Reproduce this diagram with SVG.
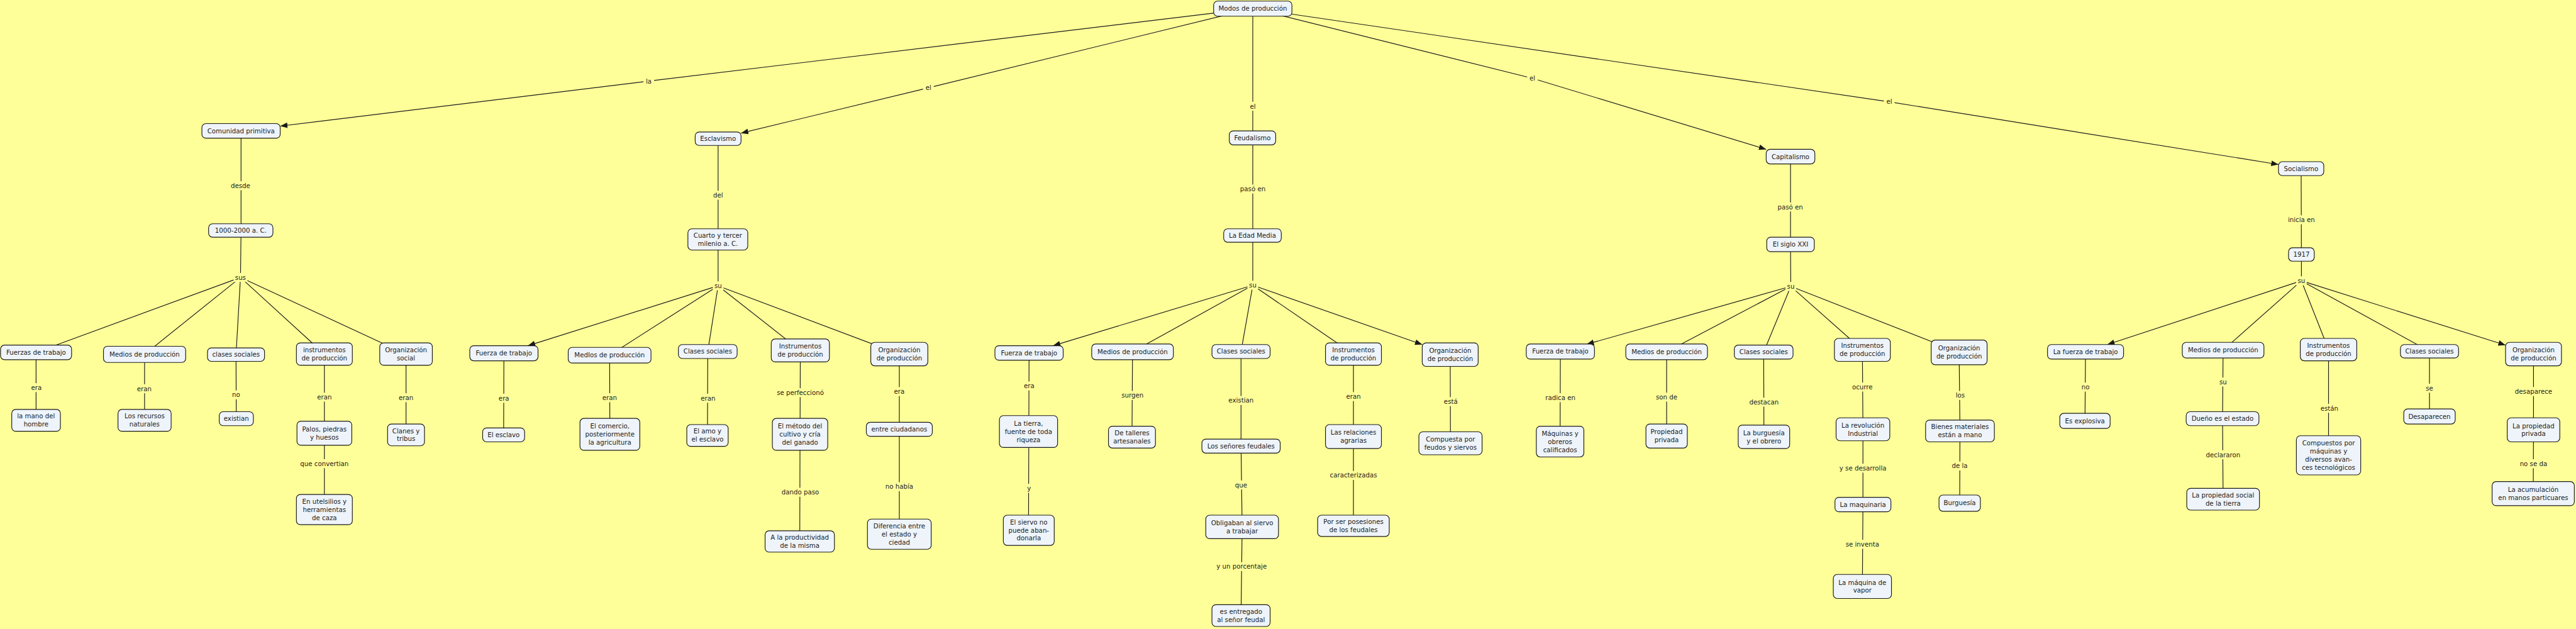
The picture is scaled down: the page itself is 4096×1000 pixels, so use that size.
<svg xmlns="http://www.w3.org/2000/svg" width="4096" height="1000" viewBox="0 0 4096 1000">
<defs>
<style>
.n rect{fill:#eef4f9;stroke:#1a1a1a;stroke-width:1.3}
text{font-family:"DejaVu Sans",Verdana,sans-serif;font-size:11.5px;fill:#1a1a1a;text-anchor:middle}
.c path{fill:none;stroke:#1a1a1a;stroke-width:1.3}
.a{marker-end:url(#ah)}
.lb rect{fill:#ffff99}
</style>
<marker id="ah" viewBox="0 0 13 10" refX="13" refY="5" markerWidth="13" markerHeight="10" markerUnits="userSpaceOnUse" orient="auto"><path d="M0,0 L13,5 L0,10 z" fill="#1a1a1a"/></marker>
</defs>
<rect width="4096" height="1000" fill="#ffff99"/>
<g transform="scale(0.88928)">
<g id="connectors" class="c">
<path class="a" d="M2240 15 L1160 145 L501 225.5"/>
<path class="a" d="M2240 15 L1660 157 L1325 238"/>
<path d="M2240 15 L2240 246"/>
<path class="a" d="M2240 15 L2740 140 L3158 267"/>
<path class="a" d="M2240 15 L3378 182 L4074 294"/>
<path d="M431 234 L431 412 L430 496 M430 496 L64.5 630 M430 496 L258.5 633.5 M430 496 L422 634 M430 496 L580 633 M430 496 L726 633"/>
<path d="M64.5 630 L64.5 751.5 M258.5 633.5 L258.5 751.5 M422 634 L422.5 748.5 M580 633 L580 911 M726 633 L726 777.5"/>
<path d="M1284 248 L1284 428 L1284 511 M1284 511 L1090 635 M1284 511 L1265.5 628.5 M1284 511 L1431 626.5 M1284 511 L1608 633"/>
<path class="a" d="M1284 511 L944 618"/>
<path d="M901 631 L900.5 777.5 M1090 635 L1090.5 776.5 M1265.5 628.5 L1265 778.5 M1431 626.5 L1430.5 776.5 L1430 968 M1608 633 L1608 955"/>
<path d="M2240 246 L2240 421 L2240 510 M2240 510 L2025 629 M2240 510 L2219 628.5 M2240 510 L2420 633"/>
<path class="a" d="M2240 510 L1883 618"/>
<path class="a" d="M2240 510 L2543 616"/>
<path d="M1840 631 L1839 948 M2025 629 L2024 781.5 M2219 628.5 L2219 797.5 L2221 942 L2219 1100.5 M2420 633 L2420 940 M2593 634 L2593.5 792.5"/>
<path d="M3201.5 280 L3201.5 437 L3202 512 M3202 512 L2980 629 M3202 512 L3153.5 629.5 M3202 512 L3330 625.5 M3202 512 L3503 630"/>
<path class="a" d="M3202 512 L2837 615.5"/>
<path d="M2790 628.5 L2789.5 789.5 M2980 629 L2980 779.5 M3153.5 629.5 L3154 781 M3330 625.5 L3331 767.5 L3331 902 L3330 1048.5 M3503 630 L3504.5 770.5 L3504 899.5"/>
<path d="M4114.5 301.5 L4115 455 L4115 502 M4115 502 L3975 626 M4115 502 L4163.5 625 M4115 502 L4344 628"/>
<path class="a" d="M4115 502 L3768 616"/>
<path class="a" d="M4115 502 L4480 617"/>
<path d="M3729 629 L3728 752.5 M3975 626 L3974 748.5 L3975 892.5 M4163.5 625 L4163.5 814 M4344 628 L4344 744.5 M4530 633 L4530 768.5 L4529.5 882.5"/>
</g>
<g id="connector-labels" class="lb">
<rect x="1150.5" y="137" width="19" height="16"/><text x="1160" y="149">la</text>
<rect x="1650.5" y="149" width="19" height="16"/><text x="1660" y="161">el</text>
<rect x="2230.5" y="182" width="19" height="16"/><text x="2240" y="194">el</text>
<rect x="2730.5" y="132" width="19" height="16"/><text x="2740" y="144">el</text>
<rect x="3368.5" y="174" width="19" height="16"/><text x="3378" y="186">el</text>
<rect x="411" y="324" width="38" height="16"/><text x="430" y="336">desde</text>
<rect x="417.5" y="488" width="25" height="16"/><text x="430" y="500">sus</text>
<rect x="52.5" y="685" width="25" height="16"/><text x="65" y="697">era</text>
<rect x="242" y="687" width="32" height="16"/><text x="258" y="699">eran</text>
<rect x="412.5" y="698" width="19" height="16"/><text x="422" y="710">no</text>
<rect x="564" y="702" width="32" height="16"/><text x="580" y="714">eran</text>
<rect x="532" y="821" width="96" height="16"/><text x="580" y="833">que convertian</text>
<rect x="710" y="703" width="32" height="16"/><text x="726" y="715">eran</text>
<rect x="1271.5" y="341" width="25" height="16"/><text x="1284" y="353">del</text>
<rect x="1274.5" y="503" width="19" height="16"/><text x="1284" y="515">su</text>
<rect x="888.5" y="704" width="25" height="16"/><text x="901" y="716">era</text>
<rect x="1074" y="703" width="32" height="16"/><text x="1090" y="715">eran</text>
<rect x="1250" y="704" width="32" height="16"/><text x="1266" y="716">eran</text>
<rect x="1383" y="694" width="96" height="16"/><text x="1431" y="706">se perfeccionó</text>
<rect x="1396" y="872" width="70" height="16"/><text x="1431" y="884">dando paso</text>
<rect x="1595.5" y="692" width="25" height="16"/><text x="1608" y="704">era</text>
<rect x="1579.5" y="862" width="57" height="16"/><text x="1608" y="874">no había</text>
<rect x="2214.5" y="330" width="51" height="16"/><text x="2240" y="342">pasó en</text>
<rect x="2230.5" y="502" width="19" height="16"/><text x="2240" y="514">su</text>
<rect x="1827.5" y="682" width="25" height="16"/><text x="1840" y="694">era</text>
<rect x="1834" y="865" width="12" height="16"/><text x="1840" y="877">y</text>
<rect x="2003" y="699" width="44" height="16"/><text x="2025" y="711">surgen</text>
<rect x="2190.5" y="708" width="57" height="16"/><text x="2219" y="720">existian</text>
<rect x="2206.5" y="859" width="25" height="16"/><text x="2219" y="871">que</text>
<rect x="2169" y="1005" width="102" height="16"/><text x="2220" y="1017">y un porcentaje</text>
<rect x="2404" y="701" width="32" height="16"/><text x="2420" y="713">eran</text>
<rect x="2372" y="842" width="96" height="16"/><text x="2420" y="854">caracterizadas</text>
<rect x="2578" y="710" width="32" height="16"/><text x="2594" y="722">está</text>
<rect x="3175.5" y="362" width="51" height="16"/><text x="3201" y="374">pasó en</text>
<rect x="3192.5" y="504" width="19" height="16"/><text x="3202" y="516">su</text>
<rect x="2758" y="703" width="64" height="16"/><text x="2790" y="715">radica en</text>
<rect x="2958" y="702" width="44" height="16"/><text x="2980" y="714">son de</text>
<rect x="3125.5" y="711" width="57" height="16"/><text x="3154" y="723">destacan</text>
<rect x="3308" y="684" width="44" height="16"/><text x="3330" y="696">ocurre</text>
<rect x="3280" y="829" width="102" height="16"/><text x="3331" y="841">y se desarrolla</text>
<rect x="3295" y="965" width="70" height="16"/><text x="3330" y="977">se inventa</text>
<rect x="3492.5" y="699" width="25" height="16"/><text x="3505" y="711">los</text>
<rect x="3485" y="825" width="38" height="16"/><text x="3504" y="837">de la</text>
<rect x="4083" y="385" width="64" height="16"/><text x="4115" y="397">inicia en</text>
<rect x="4105.5" y="494" width="19" height="16"/><text x="4115" y="506">su</text>
<rect x="3719.5" y="684" width="19" height="16"/><text x="3729" y="696">no</text>
<rect x="3965.5" y="675" width="19" height="16"/><text x="3975" y="687">su</text>
<rect x="3940" y="805" width="70" height="16"/><text x="3975" y="817">declararon</text>
<rect x="4146" y="722" width="38" height="16"/><text x="4165" y="734">están</text>
<rect x="4334.5" y="686" width="19" height="16"/><text x="4344" y="698">se</text>
<rect x="4495" y="692" width="70" height="16"/><text x="4530" y="704">desaparece</text>
<rect x="4501.5" y="821" width="57" height="16"/><text x="4530" y="833">no se da</text>
</g>
<g id="n-modos" class="n"><rect x="2170" y="2" width="140" height="27" rx="7"/><text x="2240" y="19.5">Modos de producción</text></g>
<g id="n-comunidad" class="n"><rect x="361" y="221" width="140" height="26" rx="7"/><text x="431" y="238">Comunidad primitiva</text></g>
<g id="n-esclavismo" class="n"><rect x="1243" y="236" width="82" height="24" rx="7"/><text x="1284" y="252">Esclavismo</text></g>
<g id="n-feudalismo" class="n"><rect x="2198" y="234" width="83" height="25" rx="7"/><text x="2239.5" y="250.5">Feudalismo</text></g>
<g id="n-capitalismo" class="n"><rect x="3158" y="267" width="87" height="26" rx="7"/><text x="3201.5" y="284">Capitalismo</text></g>
<g id="n-socialismo" class="n"><rect x="4074" y="289" width="81" height="25" rx="7"/><text x="4114.5" y="305.5">Socialismo</text></g>
<g id="n-1000" class="n"><rect x="373" y="400" width="115" height="24" rx="7"/><text x="430.5" y="416">1000-2000 a. C.</text></g>
<g id="n-cuarto" class="n"><rect x="1230" y="409" width="107" height="38" rx="7"/><text x="1283.5" y="424.75"><tspan x="1283.5">Cuarto y tercer</tspan><tspan x="1283.5" dy="14.5">milenio a. C.</tspan></text></g>
<g id="n-edadmedia" class="n"><rect x="2188" y="409" width="103" height="24" rx="7"/><text x="2239.5" y="425">La Edad Media</text></g>
<g id="n-sigloxxi" class="n"><rect x="3159" y="424" width="85" height="26" rx="7"/><text x="3201.5" y="441">El siglo XXI</text></g>
<g id="n-1917" class="n"><rect x="4092" y="443" width="46" height="24" rx="7"/><text x="4115" y="459">1917</text></g>
<g id="n-c1-fuerzas" class="n"><rect x="1" y="617" width="127" height="26" rx="7"/><text x="64.5" y="634">Fuerzas de trabajo</text></g>
<g id="n-c1-medios" class="n"><rect x="185" y="619" width="147" height="29" rx="7"/><text x="258.5" y="637.5">Medios de producción</text></g>
<g id="n-c1-clases" class="n"><rect x="371" y="622" width="102" height="24" rx="7"/><text x="422" y="638">clases sociales</text></g>
<g id="n-c1-instr" class="n"><rect x="530" y="613" width="100" height="40" rx="7"/><text x="580" y="629.75"><tspan x="580">instrumentos</tspan><tspan x="580" dy="14.5">de producción</tspan></text></g>
<g id="n-c1-org" class="n"><rect x="679" y="613" width="94" height="40" rx="7"/><text x="726" y="629.75"><tspan x="726">Organización</tspan><tspan x="726" dy="14.5">social</tspan></text></g>
<g id="n-c1-mano" class="n"><rect x="21" y="732" width="87" height="39" rx="7"/><text x="64.5" y="748.25"><tspan x="64.5">la mano del</tspan><tspan x="64.5" dy="14.5">hombre</tspan></text></g>
<g id="n-c1-recursos" class="n"><rect x="211" y="732" width="95" height="39" rx="7"/><text x="258.5" y="748.25"><tspan x="258.5">Los recursos</tspan><tspan x="258.5" dy="14.5">naturales</tspan></text></g>
<g id="n-c1-existian" class="n"><rect x="392" y="736" width="61" height="25" rx="7"/><text x="422.5" y="752.5">existian</text></g>
<g id="n-c1-palos" class="n"><rect x="531" y="753" width="98" height="43" rx="7"/><text x="580" y="771.25"><tspan x="580">Palos, piedras</tspan><tspan x="580" dy="14.5">y huesos</tspan></text></g>
<g id="n-c1-utensilios" class="n"><rect x="530" y="884" width="100" height="54" rx="7"/><text x="580" y="900.5"><tspan x="580">En utelsilios y</tspan><tspan x="580" dy="14.5">herramientas</tspan><tspan x="580" dy="14.5">de caza</tspan></text></g>
<g id="n-c1-clanes" class="n"><rect x="693" y="758" width="66" height="39" rx="7"/><text x="726" y="774.25"><tspan x="726">Clanes y</tspan><tspan x="726" dy="14.5">tribus</tspan></text></g>
<g id="n-c2-fuerza" class="n"><rect x="840" y="618" width="122" height="27" rx="7"/><text x="901" y="635.5">Fuerza de trabajo</text></g>
<g id="n-c2-medios" class="n"><rect x="1016" y="621" width="148" height="28" rx="7"/><text x="1090" y="639">MedIos de producción</text></g>
<g id="n-c2-clases" class="n"><rect x="1213" y="616" width="105" height="25" rx="7"/><text x="1265.5" y="632.5">Clases sociales</text></g>
<g id="n-c2-instr" class="n"><rect x="1379" y="606" width="104" height="41" rx="7"/><text x="1431" y="623.25"><tspan x="1431">Instrumentos</tspan><tspan x="1431" dy="14.5">de producción</tspan></text></g>
<g id="n-c2-org" class="n"><rect x="1557" y="612" width="102" height="42" rx="7"/><text x="1608" y="629.75"><tspan x="1608">Organización</tspan><tspan x="1608" dy="14.5">de producción</tspan></text></g>
<g id="n-c2-esclavo" class="n"><rect x="863" y="765" width="75" height="25" rx="7"/><text x="900.5" y="781.5">El esclavo</text></g>
<g id="n-c2-comercio" class="n"><rect x="1037" y="748" width="107" height="57" rx="7"/><text x="1090.5" y="766"><tspan x="1090.5">El comercio,</tspan><tspan x="1090.5" dy="14.5">posteriormente</tspan><tspan x="1090.5" dy="14.5">la agricultura</tspan></text></g>
<g id="n-c2-amo" class="n"><rect x="1228" y="759" width="74" height="39" rx="7"/><text x="1265" y="775.25"><tspan x="1265">El amo y</tspan><tspan x="1265" dy="14.5">el esclavo</tspan></text></g>
<g id="n-c2-metodo" class="n"><rect x="1381" y="748" width="99" height="57" rx="7"/><text x="1430.5" y="766"><tspan x="1430.5">El método del</tspan><tspan x="1430.5" dy="14.5">cultivo y cría</tspan><tspan x="1430.5" dy="14.5">del ganado</tspan></text></g>
<g id="n-c2-productividad" class="n"><rect x="1368" y="949" width="124" height="38" rx="7"/><text x="1430" y="964.75"><tspan x="1430">A la productividad</tspan><tspan x="1430" dy="14.5">de la misma</tspan></text></g>
<g id="n-c2-ciudadanos" class="n"><rect x="1549" y="755" width="118" height="25" rx="7"/><text x="1608" y="771.5">entre ciudadanos</text></g>
<g id="n-c2-diferencia" class="n"><rect x="1551" y="928" width="114" height="54" rx="7"/><text x="1608" y="944.5"><tspan x="1608">Diferencia entre</tspan><tspan x="1608" dy="14.5">el estado y</tspan><tspan x="1608" dy="14.5">ciedad</tspan></text></g>
<g id="n-c3-fuerza" class="n"><rect x="1779" y="618" width="122" height="26" rx="7"/><text x="1840" y="635">Fuerza de trabajo</text></g>
<g id="n-c3-medios" class="n"><rect x="1952" y="615" width="146" height="28" rx="7"/><text x="2025" y="633">Medios de producción</text></g>
<g id="n-c3-clases" class="n"><rect x="2167" y="616" width="104" height="25" rx="7"/><text x="2219" y="632.5">Clases sociales</text></g>
<g id="n-c3-instr" class="n"><rect x="2370" y="613" width="100" height="40" rx="7"/><text x="2420" y="629.75"><tspan x="2420">Instrumentos</tspan><tspan x="2420" dy="14.5">de producción</tspan></text></g>
<g id="n-c3-org" class="n"><rect x="2543" y="613" width="100" height="42" rx="7"/><text x="2593" y="630.75"><tspan x="2593">Organización</tspan><tspan x="2593" dy="14.5">de producción</tspan></text></g>
<g id="n-c3-tierra" class="n"><rect x="1787" y="743" width="104" height="57" rx="7"/><text x="1839" y="761"><tspan x="1839">La tierra,</tspan><tspan x="1839" dy="14.5">fuente de toda</tspan><tspan x="1839" dy="14.5">riqueza</tspan></text></g>
<g id="n-c3-siervo" class="n"><rect x="1794" y="921" width="91" height="54" rx="7"/><text x="1839.5" y="937.5"><tspan x="1839.5">El siervo no</tspan><tspan x="1839.5" dy="14.5">puede aban-</tspan><tspan x="1839.5" dy="14.5">donarla</tspan></text></g>
<g id="n-c3-talleres" class="n"><rect x="1982" y="762" width="84" height="39" rx="7"/><text x="2024" y="778.25"><tspan x="2024">De talleres</tspan><tspan x="2024" dy="14.5">artesanales</tspan></text></g>
<g id="n-c3-senores" class="n"><rect x="2149" y="785" width="140" height="25" rx="7"/><text x="2219" y="801.5">Los señores feudales</text></g>
<g id="n-c3-obligaban" class="n"><rect x="2156" y="921" width="130" height="42" rx="7"/><text x="2221" y="938.75"><tspan x="2221">Obligaban al siervo</tspan><tspan x="2221" dy="14.5">a trabajar</tspan></text></g>
<g id="n-c3-entregado" class="n"><rect x="2167" y="1081" width="104" height="39" rx="7"/><text x="2219" y="1097.25"><tspan x="2219">es entregado</tspan><tspan x="2219" dy="14.5">al señor feudal</tspan></text></g>
<g id="n-c3-relaciones" class="n"><rect x="2370" y="759" width="100" height="43" rx="7"/><text x="2420" y="777.25"><tspan x="2420">Las relaciones</tspan><tspan x="2420" dy="14.5">agrarias</tspan></text></g>
<g id="n-c3-posesiones" class="n"><rect x="2356" y="921" width="128" height="38" rx="7"/><text x="2420" y="936.75"><tspan x="2420">Por ser posesiones</tspan><tspan x="2420" dy="14.5">de los feudales</tspan></text></g>
<g id="n-c3-compuesta" class="n"><rect x="2537" y="772" width="113" height="41" rx="7"/><text x="2593.5" y="789.25"><tspan x="2593.5">Compuesta por</tspan><tspan x="2593.5" dy="14.5">feudos y siervos</tspan></text></g>
<g id="n-c4-fuerza" class="n"><rect x="2729" y="615" width="122" height="27" rx="7"/><text x="2790" y="632.5">Fuerza de trabajo</text></g>
<g id="n-c4-medios" class="n"><rect x="2907" y="615" width="146" height="28" rx="7"/><text x="2980" y="633">Medios de producción</text></g>
<g id="n-c4-clases" class="n"><rect x="3101" y="617" width="105" height="25" rx="7"/><text x="3153.5" y="633.5">Clases sociales</text></g>
<g id="n-c4-instr" class="n"><rect x="3280" y="605" width="100" height="41" rx="7"/><text x="3330" y="622.25"><tspan x="3330">Instrumentos</tspan><tspan x="3330" dy="14.5">de producción</tspan></text></g>
<g id="n-c4-org" class="n"><rect x="3453" y="608" width="100" height="44" rx="7"/><text x="3503" y="626.75"><tspan x="3503">Organización</tspan><tspan x="3503" dy="14.5">de producción</tspan></text></g>
<g id="n-c4-maquinas" class="n"><rect x="2747" y="762" width="85" height="55" rx="7"/><text x="2789.5" y="779"><tspan x="2789.5">Máquinas y</tspan><tspan x="2789.5" dy="14.5">obreros</tspan><tspan x="2789.5" dy="14.5">calificados</tspan></text></g>
<g id="n-c4-propiedad" class="n"><rect x="2943" y="758" width="74" height="43" rx="7"/><text x="2980" y="776.25"><tspan x="2980">Propiedad</tspan><tspan x="2980" dy="14.5">privada</tspan></text></g>
<g id="n-c4-burguesia-obrero" class="n"><rect x="3108" y="760" width="92" height="42" rx="7"/><text x="3154" y="777.75"><tspan x="3154">La burguesía</tspan><tspan x="3154" dy="14.5">y el obrero</tspan></text></g>
<g id="n-c4-revolucion" class="n"><rect x="3283" y="747" width="96" height="41" rx="7"/><text x="3331" y="764.25"><tspan x="3331">La revolución</tspan><tspan x="3331" dy="14.5">Industrial</tspan></text></g>
<g id="n-c4-maquinaria" class="n"><rect x="3281" y="889" width="100" height="26" rx="7"/><text x="3331" y="906">La maquinaria</text></g>
<g id="n-c4-vapor" class="n"><rect x="3278" y="1027" width="104" height="43" rx="7"/><text x="3330" y="1045.25"><tspan x="3330">La máquina de</tspan><tspan x="3330" dy="14.5">vapor</tspan></text></g>
<g id="n-c4-bienes" class="n"><rect x="3443" y="751" width="123" height="39" rx="7"/><text x="3504.5" y="767.25"><tspan x="3504.5">Bienes materiales</tspan><tspan x="3504.5" dy="14.5">están a mano</tspan></text></g>
<g id="n-c4-burguesia" class="n"><rect x="3467" y="885" width="74" height="29" rx="7"/><text x="3504" y="903.5">Burguesía</text></g>
<g id="n-c5-fuerza" class="n"><rect x="3661" y="616" width="136" height="26" rx="7"/><text x="3729" y="633">La fuerza de trabajo</text></g>
<g id="n-c5-medios" class="n"><rect x="3902" y="612" width="146" height="28" rx="7"/><text x="3975" y="630">Medios de producción</text></g>
<g id="n-c5-instr" class="n"><rect x="4113" y="605" width="101" height="40" rx="7"/><text x="4163.5" y="621.75"><tspan x="4163.5">Instrumentos</tspan><tspan x="4163.5" dy="14.5">de producción</tspan></text></g>
<g id="n-c5-clases" class="n"><rect x="4292" y="616" width="104" height="24" rx="7"/><text x="4344" y="632">Clases sociales</text></g>
<g id="n-c5-org" class="n"><rect x="4480" y="612" width="100" height="42" rx="7"/><text x="4530" y="629.75"><tspan x="4530">Organización</tspan><tspan x="4530" dy="14.5">de producción</tspan></text></g>
<g id="n-c5-explosiva" class="n"><rect x="3683" y="739" width="90" height="27" rx="7"/><text x="3728" y="756.5">Es explosiva</text></g>
<g id="n-c5-dueno" class="n"><rect x="3909" y="736" width="130" height="25" rx="7"/><text x="3974" y="752.5">Dueño es el estado</text></g>
<g id="n-c5-propsocial" class="n"><rect x="3910" y="873" width="130" height="39" rx="7"/><text x="3975" y="889.25"><tspan x="3975">La propiedad social</tspan><tspan x="3975" dy="14.5">de la tierra</tspan></text></g>
<g id="n-c5-compuestos" class="n"><rect x="4106" y="779" width="115" height="70" rx="7"/><text x="4163.5" y="796.25"><tspan x="4163.5">Compuestos por</tspan><tspan x="4163.5" dy="14.5">máquinas y</tspan><tspan x="4163.5" dy="14.5">diversos avan-</tspan><tspan x="4163.5" dy="14.5">ces tecnológicos</tspan></text></g>
<g id="n-c5-desaparecen" class="n"><rect x="4298" y="731" width="92" height="27" rx="7"/><text x="4344" y="748.5">Desaparecen</text></g>
<g id="n-c5-propprivada" class="n"><rect x="4483" y="747" width="94" height="43" rx="7"/><text x="4530" y="765.25"><tspan x="4530">La propiedad</tspan><tspan x="4530" dy="14.5">privada</tspan></text></g>
<g id="n-c5-acumulacion" class="n"><rect x="4456" y="861" width="147" height="43" rx="7"/><text x="4529.5" y="879.25"><tspan x="4529.5">La acumulación</tspan><tspan x="4529.5" dy="14.5">en manos particuares</tspan></text></g>
</g>
</svg>
